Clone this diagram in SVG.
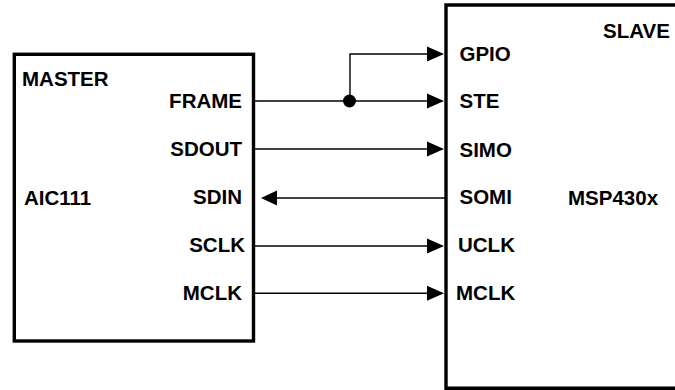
<svg xmlns="http://www.w3.org/2000/svg" width="675" height="390" viewBox="0 0 675 390">
<style>
.box{fill:#fff;stroke:#000;stroke-width:3.4}
.lbl{font-family:"Liberation Sans",Arial,sans-serif;font-weight:bold;font-size:20.5px;fill:#000}
.r{text-anchor:end}
.w{stroke:#000;stroke-width:1.4;fill:none}
.ah{fill:#000}
</style>
<g id="master">
<rect class="box" x="14.3" y="54.3" width="239.2" height="286.7"/>
<text class="lbl" x="22" y="86">MASTER</text>
<text class="lbl" x="24" y="204.5">AIC111</text>
<text class="lbl r" x="242" y="108">FRAME</text>
<text class="lbl r" x="242" y="156">SDOUT</text>
<text class="lbl r" x="242" y="204">SDIN</text>
<text class="lbl r" x="245" y="251.5">SCLK</text>
<text class="lbl r" x="242" y="300">MCLK</text>
</g>
<g id="slave">
<path class="box" d="M680 388.2 H446 V5 H680"/>
<text class="lbl" x="603" y="37.5">SLAVE</text>
<text class="lbl" x="568" y="205">MSP430x</text>
<text class="lbl" x="459.5" y="60.5">GPIO</text>
<text class="lbl" x="459.5" y="108">STE</text>
<text class="lbl" x="459.5" y="157">SIMO</text>
<text class="lbl" x="459.5" y="204.3">SOMI</text>
<text class="lbl" x="458" y="252">UCLK</text>
<text class="lbl" x="456" y="300">MCLK</text>
</g>
<g id="connectors">
<path class="w" d="M255 101 H430"/>
<path class="w" d="M350 101 V54 H430"/>
<circle class="ah" cx="349.5" cy="101" r="6.5"/>
<path class="w" d="M255 149 H430"/>
<path class="w" d="M274 198 H445"/>
<path class="w" d="M255 246 H430"/>
<path class="w" d="M255 293.3 H430"/>
<polygon class="ah" points="444,54 427,46.5 427,61.5"/>
<polygon class="ah" points="444,101 427,93.5 427,108.5"/>
<polygon class="ah" points="444,149 427,141.5 427,156.5"/>
<polygon class="ah" points="261,198 277,190.5 277,205.5"/>
<polygon class="ah" points="444,246 427,238.5 427,253.5"/>
<polygon class="ah" points="444,293.3 427,285.8 427,300.8"/>
</g>
</svg>
